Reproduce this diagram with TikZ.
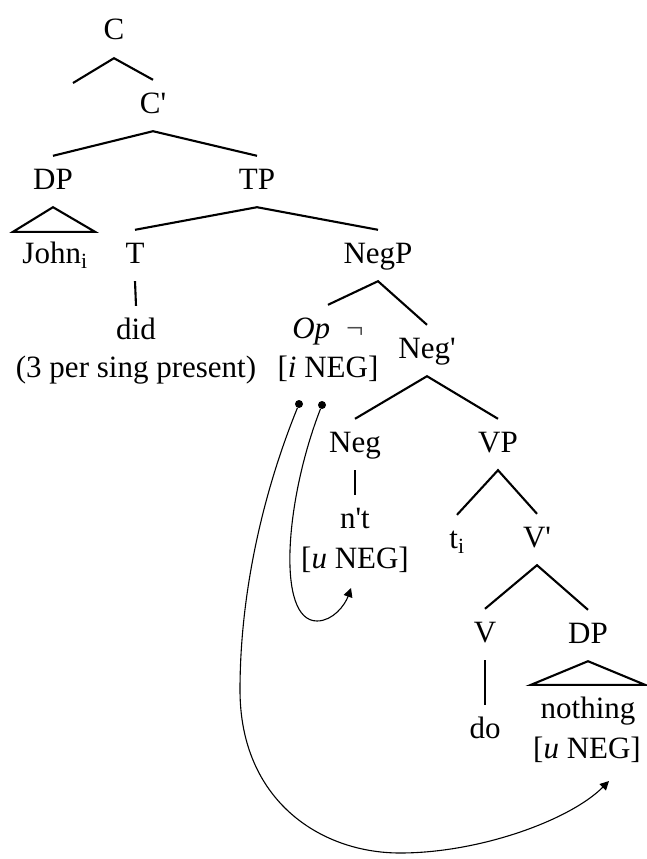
\documentclass[tikz,border=0pt]{standalone}
\usepackage{fontspec}
\setmainfont{Liberation Serif}
\usetikzlibrary{arrows.meta}
\newcommand{\pr}{\textquotesingle}
\begin{document}
\begin{tikzpicture}[x=1pt,y=-1pt,
  font=\fontsize{31}{37}\selectfont,
  lbl/.style={anchor=base, inner xsep=2pt, inner ysep=12pt, text height=21pt, text depth=6pt},
  branch/.style={line width=2.1pt},
  link/.style={line width=1.1pt},
  dot/.style={circle, fill, inner sep=0pt, minimum size=8pt},
  tip/.style={-{Triangle[length=9pt,width=9pt]}}]
\useasboundingbox (0,0) rectangle (646,859);
% labels
\node[lbl] (C) at (114,40) {C};
\node[lbl] (Cb) at (153,113) {C\pr};
\coordinate (Cspec) at (73,83);
\node[lbl] (DP1) at (53,189) {DP};
\node[lbl] (TP) at (257,189) {TP};
\node[lbl] (John) at (55,263) {John\textsubscript{i}};
\node[lbl] (T) at (135,263) {T};
\node[lbl] (NegP) at (378,263) {NegP};
\node[lbl] (did) at (136,339) {did};
\node[lbl] (pres) at (136,377) {(3 per sing present)};
\node[lbl] (Op) at (328,338) {\textit{Op}\hspace{16pt}{\color{black!70}¬}};
\node[lbl] (iNEG) at (328,377) {[\textit{i} NEG]};
\node[lbl] (Negb) at (427,358) {Neg\pr};
\node[lbl] (Neg) at (355,452) {Neg};
\node[lbl] (VP) at (498,452) {VP};
\node[lbl] (nt) at (355,528) {n\pr t};
\node[lbl] (uNEG1) at (355,568) {[\textit{u} NEG]};
\node[lbl] (ti) at (457,548) {t\textsubscript{i}};
\node[lbl] (Vb) at (537,547) {V\pr};
\node[lbl] (V) at (485,642) {V};
\node[lbl] (DP2) at (588,643) {DP};
\node[lbl] (do) at (485,738) {do};
\node[lbl] (nothing) at (588,718) {nothing};
\node[lbl] (uNEG2) at (587,758) {[\textit{u} NEG]};
% branches
\draw[branch] (Cspec) -- (C.south) -- (Cb.north);
\draw[branch] (DP1.north) -- (Cb.south) -- (TP.north);
\draw[branch] (T.north) -- (TP.south) -- (NegP.north);
\draw[branch] (Op.north) -- (NegP.south) -- (Negb.north);
\draw[branch] (Neg.north) -- (Negb.south) -- (VP.north);
\draw[branch] (ti.north) -- (VP.south) -- (Vb.north);
\draw[branch] (V.north) -- (Vb.south) -- (DP2.north);
\draw[branch] (T.south) -- (did.north);
\draw[branch] (Neg.south) -- (nt.north);
\draw[branch] (V.south) -- (do.north);
\draw[branch, line join=miter] (DP1.south) -- ([shift={(-42,2)}]John.north) -- ([shift={(40,2)}]John.north) -- cycle;
\draw[branch, line join=miter] (DP2.south) -- ([shift={(-57,0)}]nothing.north) -- ([shift={(57,0)}]nothing.north) -- cycle;
% agreement links
\node[dot] (d1) at (299,404) {};
\node[dot] (d2) at (322,405) {};
\coordinate (t1) at (351,588);
\coordinate (t2) at (609,781);
\draw[link, tip] (d2) .. controls (285,500) and (276,621) .. (317,621)
  .. controls (333,621) and (345,605) .. (t1);
\draw[link, tip] (d1) .. controls (260,500) and (240,600) .. (240,690)
  .. controls (240,800) and (320,853) .. (400,853)
  .. controls (480,853) and (570,820) .. (t2);
\end{tikzpicture}
\end{document}
